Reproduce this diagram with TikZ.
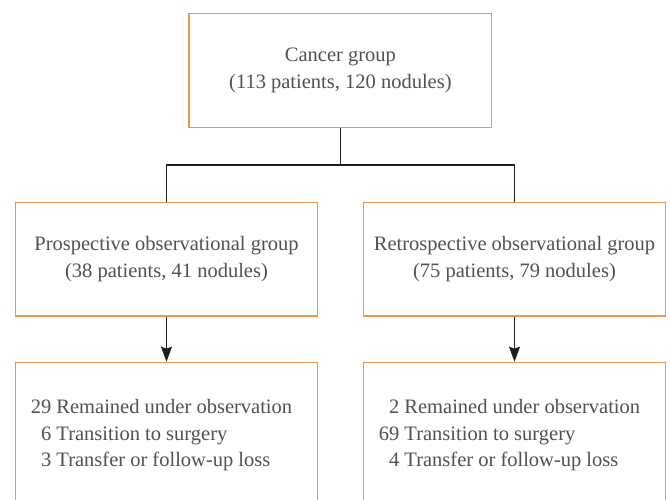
\documentclass[tikz,border=0pt]{standalone}
\usepackage{fontspec}
\setmainfont{Liberation Serif}
\usetikzlibrary{arrows.meta}
\definecolor{boxorange}{RGB}{240,150,75}
\definecolor{txtgray}{RGB}{80,80,80}
\definecolor{lnk}{RGB}{30,30,30}
\begin{document}
\begin{tikzpicture}[x=1pt,y=-1pt,
  box/.style={draw=boxorange,line width=1.3pt,inner sep=0pt,align=center,
    text=txtgray,font=\fontsize{20.5}{26.5}\selectfont},
  listbox/.style={box,align=left},
  conn/.style={draw=lnk,line width=1.2pt},
  arr/.style={conn,-{Stealth[length=15pt,width=11pt,inset=2pt]}}]
\useasboundingbox (0,0) rectangle (669,499);
\clip (0,0) rectangle (669,499);
\node[box,minimum width=302.7pt,minimum height=114pt] (top) at (340.4,70.5)
  {Cancer group\\(113 patients, 120 nodules)};
\node[box,minimum width=302.4pt,minimum height=113.3pt] (pro) at (166.5,259.3)
  {Prospective observational group\\(38 patients, 41 nodules)};
\node[box,minimum width=302.4pt,minimum height=113.3pt] (ret) at (514.5,259.3)
  {Retrospective observational group\\(75 patients, 79 nodules)};
\node[listbox,minimum width=302.4pt,minimum height=146pt,anchor=north] (prores) at (166.5,361.7)
  {29 Remained under observation\hspace*{10pt}\\\hphantom{2}6 Transition to surgery\\\hphantom{2}3 Transfer or follow-up loss};
\node[listbox,minimum width=302.4pt,minimum height=146pt,anchor=north] (retres) at (514.5,361.7)
  {\hphantom{6}2 Remained under observation\hspace*{10pt}\\69 Transition to surgery\\\hphantom{6}4 Transfer or follow-up loss};
\coordinate (split) at (340.4,165);
\draw[conn] (top.south) -- (split);
\draw[conn] (pro.north) |- (split) -| (ret.north);
\draw[arr] (pro.south) -- (prores.north);
\draw[arr] (ret.south) -- (retres.north);
\end{tikzpicture}
\end{document}
